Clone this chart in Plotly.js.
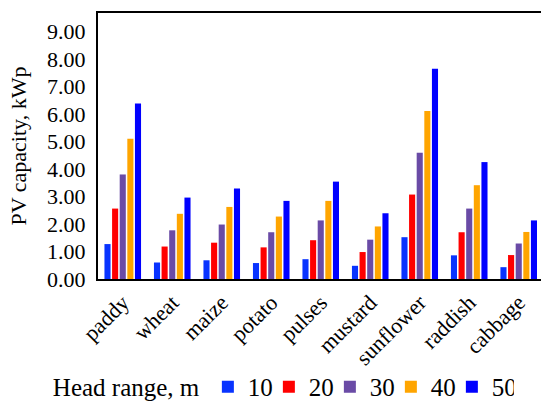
<!DOCTYPE html>
<html>
<head>
<meta charset="utf-8">
<script src="https://cdn.plot.ly/plotly-3.0.1.min.js"></script>
<style>html,body{margin:0;padding:0;background:#fff;}#chart{width:541px;height:403px;}</style>
</head>
<body>
<div id="chart"></div>
<script>
var crops = ["paddy", "wheat", "maize", "potato", "pulses", "mustard", "sunflower", "raddish", "cabbage"];
var head10 = [1.27, 0.60, 0.68, 0.58, 0.72, 0.48, 1.52, 0.86, 0.43];
var head20 = [2.56, 1.18, 1.32, 1.15, 1.41, 0.98, 3.07, 1.70, 0.87];
var head30 = [3.80, 1.77, 1.98, 1.70, 2.13, 1.43, 4.59, 2.56, 1.29];
var head40 = [5.10, 2.37, 2.62, 2.27, 2.84, 1.91, 6.11, 3.41, 1.71];
var head50 = [6.38, 2.96, 3.29, 2.84, 3.54, 2.39, 7.64, 4.25, 2.13];
var seriesNames = ["10", "20", "30", "40", "50"];
var yTicks = [0, 1, 2, 3, 4, 5, 6, 7, 8, 9];
var yTickText = ["0.00", "1.00", "2.00", "3.00", "4.00", "5.00", "6.00", "7.00", "8.00", "9.00"];

var colors = ["#0833FF", "#FF0000", "#6A4BA6", "#FFA500", "#0000FF"];
var allVals = [head10, head20, head30, head40, head50];
var serif = "Liberation Serif";

var traces = allVals.map(function (vals, i) {
  return {
    type: "bar",
    name: seriesNames[i],
    x: crops,
    y: vals,
    marker: {color: colors[i], line: {width: 0}},
    hoverinfo: "x+y+name"
  };
});

var layout = {
  width: 541,
  height: 403,
  margin: {l: 98, r: 0, t: 12.5, b: 123.5},
  paper_bgcolor: "#fff",
  plot_bgcolor: "#fff",
  barmode: "group",
  bargap: 0.23,
  bargroupgap: 0.2,
  font: {family: serif, color: "#000", size: 22},
  xaxis: {
    type: "category",
    range: [-0.5, 8.45],
    showline: true,
    linecolor: "#000",
    linewidth: 2,
    mirror: true,
    ticks: "",
    tickangle: -45,
    tickfont: {family: serif, size: 22, color: "#000"},
    showgrid: false,
    zeroline: false,
    fixedrange: true
  },
  yaxis: {
    range: [0, 9.67],
    tickvals: yTicks,
    ticktext: yTickText,
    showline: true,
    linecolor: "#000",
    linewidth: 2,
    ticks: "",
    ticklabelstandoff: 6,
    tickfont: {family: serif, size: 22, color: "#000"},
    showgrid: false,
    zeroline: false,
    title: {text: "PV capacity, kWp", font: {family: serif, size: 22, color: "#000"}, standoff: 14},
    fixedrange: true
  },
  showlegend: true,
  legend: {
    orientation: "h",
    xref: "container",
    yref: "container",
    x: 0.094,
    xanchor: "left",
    y: 0.04,
    yanchor: "middle",
    title: {text: "Head range, m", side: "left", font: {family: serif, size: 25, color: "#000"}},
    font: {family: serif, size: 25, color: "#000"},
    bgcolor: "rgba(0,0,0,0)",
    entrywidth: 16,
    traceorder: "normal"
  }
};

Plotly.newPlot("chart", traces, layout, {displayModeBar: false, staticPlot: true});
</script>
</body>
</html>
